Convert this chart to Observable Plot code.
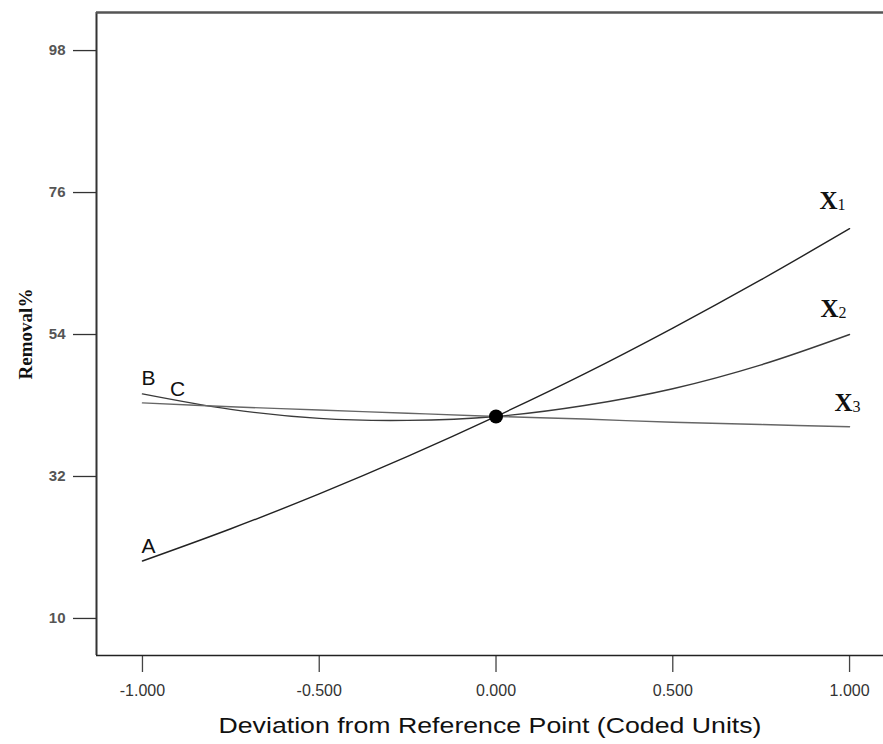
<!DOCTYPE html>
<html>
<head>
<meta charset="utf-8">
<script src="https://cdn.jsdelivr.net/npm/d3@7"></script>
<script src="https://cdn.jsdelivr.net/npm/@observablehq/plot@0.6"></script>
<style>
  html, body { margin: 0; padding: 0; background: #fff; }
  svg { display: block; }
</style>
</head>
<body>
<div id="chart"></div>
<script>
const deviation = [-1, -0.75, -0.5, -0.25, 0, 0.25, 0.5, 0.75, 1];
const seriesA = [18.9, 23.9, 29.3, 35.1, 41.3, 47.9, 55.0, 62.5, 70.4];
const seriesB = [44.8, 42.4, 41.0, 40.7, 41.3, 43.0, 45.6, 49.3, 54.0];
const seriesC = [43.4, 42.8, 42.3, 41.8, 41.3, 40.9, 40.4, 40.05, 39.7];
const xTicks = [-1, -0.5, 0, 0.5, 1];
const yTicks = [10, 32, 54, 76, 98];
const refPoint = [{x: 0, y: 41.3}];
const xTitle = "Deviation from Reference Point (Coded Units)";
const yTitle = "Removal%";

const series = [
  {name: "A", vals: seriesA, color: "#222"},
  {name: "B", vals: seriesB, color: "#3a3a3a"},
  {name: "C", vals: seriesC, color: "#666"}
];
const rows = series.flatMap(s => deviation.map((d, i) => ({series: s.name, x: d, y: s.vals[i]})));

const start = n => rows.find(r => r.series === n && r.x === -1);
const end = n => rows.find(r => r.series === n && r.x === 1);

const sans = "Liberation Sans, Arial, sans-serif";
const serif = "Liberation Serif, Times New Roman, serif";

const xDomain = [-1.130, 1.096];
const yDomain = [4.26, 103.9];

function endLabel(n, digit, dx, dy) {
  return [
    Plot.text([end(n)], {x: "x", y: "y", text: () => "X", dx, dy, textAnchor: "end", lineAnchor: "bottom",
      fontSize: 25, fontWeight: "bold", fill: "#111", fontFamily: serif}),
    Plot.text([end(n)], {x: "x", y: "y", text: () => digit, dx: dx, dy: dy + 1, textAnchor: "start", lineAnchor: "bottom",
      fontSize: 16, fill: "#111", fontFamily: serif})
  ];
}

const chart = Plot.plot({
  width: 883,
  height: 744,
  marginLeft: 96,
  marginRight: 0,
  marginTop: 12,
  marginBottom: 89,
  style: {fontFamily: sans, background: "#fff", fontSize: "15px"},
  x: {domain: xDomain},
  y: {domain: yDomain},
  marks: [
    Plot.axisY({ticks: yTicks, tickSize: 23, tickPadding: 8, tickFormat: d => String(d), label: null,
      fontSize: 15, fontWeight: "bold", fill: "#555", stroke: "#333", strokeWidth: 1.3}),
    Plot.axisX({ticks: xTicks, tickSize: 17, tickPadding: 12, tickFormat: d => d.toFixed(3), label: null,
      fontSize: 16, fill: "#333", stroke: "#444", strokeWidth: 1.3}),
    Plot.ruleX([xDomain[0]], {stroke: "#333", strokeWidth: 2}),
    Plot.ruleY([yDomain[1]], {stroke: "#555", strokeWidth: 2.5}),
    Plot.ruleY([yDomain[0]], {stroke: "#222", strokeWidth: 1.6}),
    ...series.map(s => Plot.line(rows.filter(r => r.series === s.name), {x: "x", y: "y", curve: "catmull-rom", stroke: s.color, strokeWidth: 1.4})),
    Plot.dot(refPoint, {x: "x", y: "y", r: 7, fill: "#000"}),
    // start labels
    Plot.text([start("A")], {x: "x", y: "y", text: () => "A", dx: 6, dy: -15, fontSize: 21, fill: "#111", fontFamily: sans}),
    Plot.text([start("B")], {x: "x", y: "y", text: () => "B", dx: 6, dy: -16, fontSize: 21, fill: "#111", fontFamily: sans}),
    Plot.text([start("C")], {x: "x", y: "y", text: () => "C", dx: 35, dy: -14, fontSize: 21, fill: "#111", fontFamily: sans}),
    // end labels
    ...endLabel("A", "1", -12, -20),
    ...endLabel("B", "2", -11, -18),
    ...endLabel("C", "3", 3, -16),
    // axis titles
    Plot.text([yTitle], {frameAnchor: "left", dx: -71, rotate: -90, textAnchor: "middle", lineAnchor: "middle",
      fontSize: 19, fontWeight: "bold", fill: "#111", fontFamily: serif}),
    Plot.text([xTitle], {frameAnchor: "bottom", dy: 70, textAnchor: "middle", lineAnchor: "middle",
      fontSize: 22, fill: "#111", fontFamily: sans})
  ]
});
document.getElementById("chart").appendChild(chart);
d3.select(chart).selectAll("text").filter(function() { return this.textContent === xTitle; })
  .attr("textLength", 543).attr("lengthAdjust", "spacingAndGlyphs");
</script>
</body>
</html>
